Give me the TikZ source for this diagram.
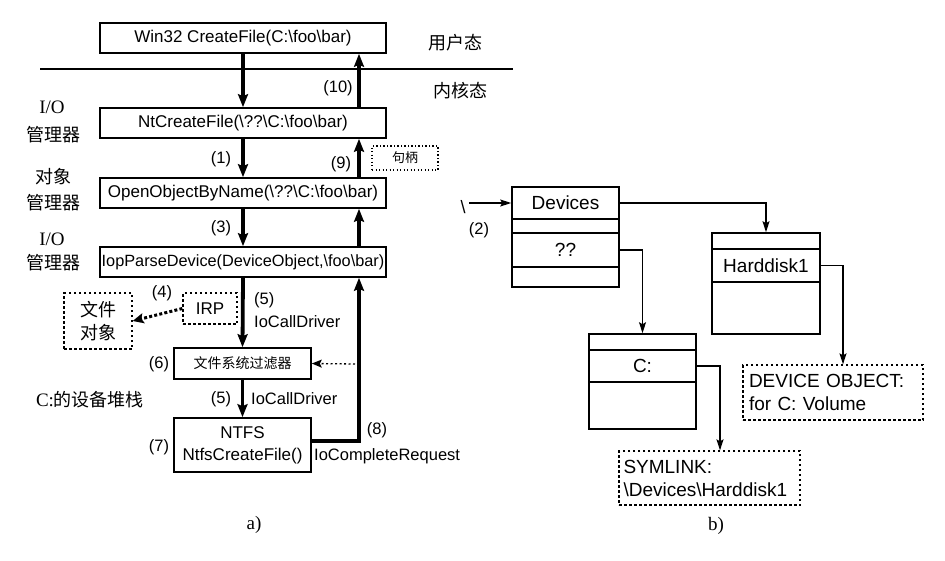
\documentclass[tikz,border=0pt]{standalone}
\usepackage{fontspec}
\setmainfont{Liberation Sans}
\newfontfamily\cjk{Noto Sans CJK SC}
\newfontfamily\serifrm{Liberation Serif}
\usetikzlibrary{arrows.meta,calc}
\tikzset{
  box/.style={draw, line width=1.6pt, inner sep=0pt, font=\fontsize{17}{20}\selectfont},
  mainbox/.style={box, minimum width=286pt, minimum height=30pt},
  dbox/.style={draw, line width=1.3pt, dash pattern=on 2.5pt off 2.5pt, inner sep=0pt},
  thk/.style={line width=3.8pt, -{Stealth[length=13pt,width=10pt,inset=2pt]}},
  thn/.style={line width=1.3pt, -{Stealth[length=11pt,width=7pt,inset=2pt]}},
  lbl/.style={font=\fontsize{16.5}{19}\selectfont, inner sep=0pt},
  tlbl/.style={font=\fontsize{19}{23}\selectfont, inner sep=0pt},
  cjklbl/.style={font=\cjk\fontsize{18}{22}\selectfont, inner sep=0pt},
  serlbl/.style={font=\serifrm\fontsize{19}{22}\selectfont, inner sep=0pt},
  tbl/.style={draw, line width=1.6pt, inner sep=0pt},
  rowline/.style={line width=1.6pt},
}
\begin{document}
\begin{tikzpicture}[x=1pt,y=-1pt]
\useasboundingbox[fill=white] (0,0) rectangle (945,560);

% separator
\coordinate (sepL) at (40,69);
\coordinate (sepR) at (513,69);
\draw[line width=1.3pt] (sepL) -- (sepR);
\node[cjklbl] (user) at (455,43) {用户态};
\node[cjklbl] (kern) at (460,91) {内核态};

% main column
\node[mainbox] (win) at (243,38) {Win32 CreateFile(C:\textbackslash foo\textbackslash bar)};
\node[mainbox] (nt) at (243,123) {NtCreateFile(\textbackslash ??\textbackslash C:\textbackslash foo\textbackslash bar)};
\node[mainbox] (oo) at (243,193) {OpenObjectByName(\textbackslash ??\textbackslash C:\textbackslash foo\textbackslash bar)};
\node[mainbox, font=\fontsize{16.3}{19}\selectfont] (iop) at (243,262) {IopParseDevice(DeviceObject,\textbackslash foo\textbackslash bar)};
\node[box, minimum width=137pt, minimum height=31pt, font=\cjk\fontsize{14}{16}\selectfont] (flt) at (242.5,363.5) {文件系统过滤器};
\node[box, minimum width=137pt, minimum height=54pt, align=center, font=\fontsize{17}{22}\selectfont] (ntfs) at (242.5,445) {NTFS\\NtfsCreateFile()};

\node[dbox, minimum width=54pt, minimum height=31pt, font=\fontsize{17}{20}\selectfont] (irp) at (210,308.5) {IRP};
\node[dbox, minimum width=68pt, minimum height=56pt, align=center, font=\cjk\fontsize{18}{23}\selectfont] (fobj) at (98,321) {文件\\对象};
\node[draw, line width=1.3pt, dash pattern=on 1.3pt off 2.2pt, inner sep=0pt, minimum width=66pt, minimum height=24pt, font=\cjk\fontsize{13}{15}\selectfont] (hdl) at (405,158) {句柄};

% left labels
\node[serlbl] (io1) at (52,107) {I/O};
\node[cjklbl] (mg1) at (53,135) {管理器};
\node[cjklbl] (ob) at (53,177) {对象};
\node[cjklbl] (mg2) at (53,203) {管理器};
\node[serlbl] (io2) at (52,239) {I/O};
\node[cjklbl] (mg3) at (53,263) {管理器};
\node[inner sep=0pt] (stack) at (90,400) {{\serifrm\fontsize{19}{22}\selectfont C:}{\cjk\fontsize{18}{22}\selectfont 的设备堆栈}};

% thick arrows
\coordinate (ux) at (359,0);
\draw[thk] (win.south) -- (nt.north);
\draw[thk] (nt.south) -- (oo.north);
\draw[thk] (oo.south) -- (iop.north);
\draw[thk] (iop.south) -- (flt.north);
\draw[thk] (flt.south) -- (ntfs.north);
\draw[thk] (nt.north -| ux) -- (win.south -| ux);
\draw[thk] (oo.north -| ux) -- (nt.south -| ux);
\draw[thk] (iop.north -| ux) -- (oo.south -| ux);
\draw[thk] ([yshift=4pt]ntfs.east) -| (iop.south -| ux);

% dotted arrows
\draw[line width=3pt, dash pattern=on 3pt off 2.2pt, -{Stealth[length=11pt,width=10pt,inset=2pt]}] (irp.west) -- (fobj.east);
\coordinate (fltsrc) at (355,364);
\draw[line width=1.3pt, dash pattern=on 2pt off 2.5pt, -{Stealth[length=10pt,width=8pt,inset=2pt]}] (fltsrc) -- (flt.east);

% step labels
\node[lbl] (l10) at (338,88) {(10)};
\node[lbl] (l1) at (221,159) {(1)};
\node[lbl] (l9) at (341,164) {(9)};
\node[lbl] (l3) at (221,228) {(3)};
\node[lbl] (l4) at (162,293) {(4)};
\node[lbl, anchor=west] (l5a) at (254,300) {(5)};
\node[lbl, anchor=west] (icd1) at (254,322) {IoCallDriver};
\node[lbl] (l6) at (159,364) {(6)};
\node[lbl] (l5b) at (221,399) {(5)};
\node[lbl, anchor=west] (icd2) at (251,399) {IoCallDriver};
\node[lbl] (l7) at (159,447) {(7)};
\node[lbl] (l8) at (377,430) {(8)};
\node[lbl, anchor=west] (icr) at (314,456) {IoCompleteRequest};
\node[serlbl] (capa) at (254,525) {a)};
\node[serlbl] (capb) at (716,526) {b)};

% tables b)
\node[tbl, minimum width=107pt, minimum height=100pt] (dev) at (565.5,237) {};
\draw[rowline] (dev.west |- 0,219) -- (dev.east |- 0,219);
\draw[rowline] (dev.west |- 0,233) -- (dev.east |- 0,233);
\draw[rowline] (dev.west |- 0,267) -- (dev.east |- 0,267);
\node[tlbl] (devt) at (565.5,203) {Devices};
\node[tlbl] (qq) at (565.5,250) {??};

\node[tbl, minimum width=108pt, minimum height=101pt] (hd) at (766,283.5) {};
\draw[rowline] (hd.west |- 0,249) -- (hd.east |- 0,249);
\draw[rowline] (hd.west |- 0,282) -- (hd.east |- 0,282);
\node[tlbl] (hdt) at (766,265.5) {Harddisk1};

\node[tbl, minimum width=107pt, minimum height=95pt] (cv) at (642.5,381.5) {};
\draw[rowline] (cv.west |- 0,350) -- (cv.east |- 0,350);
\draw[rowline] (cv.west |- 0,382) -- (cv.east |- 0,382);
\node[tlbl] (ct) at (642.5,366) {C:};

\node[dbox, minimum width=180pt, minimum height=55pt, align=left, text width=168pt, font=\fontsize{19}{23}\selectfont] (dobj) at (833,392.5) {DEVICE OBJECT:\\for C: Volume};
\node[dbox, minimum width=181pt, minimum height=54pt, align=left, text width=172pt, font=\fontsize{19}{23}\selectfont] (sym) at (709.5,478) {SYMLINK:\\\textbackslash Devices\textbackslash Harddisk1};

\node[tlbl, font=\fontsize{18}{20}\selectfont] (bs) at (463,207) {\textbackslash};
\node[lbl] (l2) at (479,230) {(2)};
\coordinate (s2) at (469,203);
\draw[thn] (s2) -- (dev.west |- devt);
\draw[thn] (dev.east |- devt) -| (hd.north);
\draw[thn] (dev.east |- qq) -| (cv.north);
\coordinate (sx) at (720,0);
\draw[thn] (cv.east |- ct) -| (sx |- sym.north);
\coordinate (dx) at (843,0);
\draw[thn] (hd.east |- hdt) -| (dx |- dobj.north);
\end{tikzpicture}
\end{document}
